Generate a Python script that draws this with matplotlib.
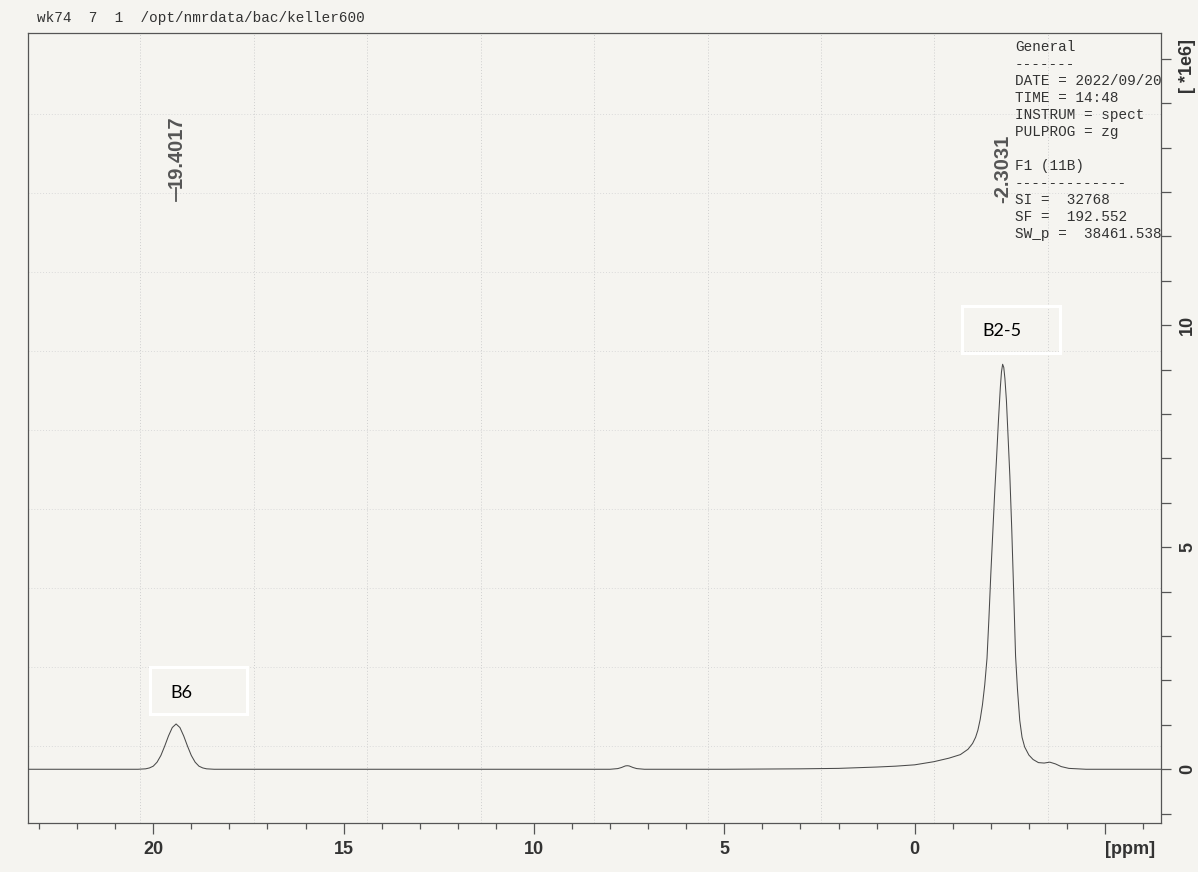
"""
plot.py

11B NMR spectrum (Bruker style printout) redrawn with matplotlib.
"""
import matplotlib
matplotlib.use('Agg')
import numpy as np
import matplotlib.pyplot as plt
from matplotlib.patches import Rectangle
from matplotlib.ticker import MultipleLocator

# spectrum: chemical shift [ppm] and intensity [*1e6]
PPM = [23.29, 21.0, 20.4, 20.2, 20.1, 20.0, 19.9, 19.8, 19.7, 19.6, 19.5,
       19.4, 19.3, 19.2, 19.1, 19.0, 18.9, 18.8, 18.7, 18.6, 18.4,
       15.0, 12.0, 8.0, 7.8, 7.7, 7.6, 7.55, 7.5, 7.4, 7.3, 7.1,
       5.0, 3.0, 2.0, 1.0, 0.5, 0.0, -0.5, -0.9, -1.2, -1.4, -1.52,
       -1.60, -1.66, -1.72, -1.78, -1.84, -1.90, -1.95, -2.00, -2.05,
       -2.10, -2.15, -2.20, -2.25, -2.28, -2.31, -2.34, -2.37, -2.41,
       -2.45, -2.50, -2.55, -2.60, -2.65, -2.70, -2.76, -2.82, -2.89,
       -3.00, -3.11, -3.25, -3.40, -3.55, -3.70, -3.85, -4.05, -4.5, -6.47]
INTENSITY = [0.0, 0.0, 0.0, 0.01, 0.03, 0.07, 0.16, 0.31, 0.52, 0.75, 0.94,
             1.02, 0.94, 0.75, 0.52, 0.31, 0.16, 0.07, 0.03, 0.01, 0.0,
             0.0, 0.0, 0.0, 0.015, 0.04, 0.075, 0.08, 0.075, 0.04, 0.015, 0.0,
             0.0, 0.01, 0.02, 0.05, 0.07, 0.10, 0.17, 0.25, 0.33, 0.45, 0.58,
             0.72, 0.88, 1.12, 1.45, 1.90, 2.50, 3.40, 4.40, 5.30,
             6.20, 7.00, 7.85, 8.60, 8.95, 9.12, 9.05, 8.80, 8.30,
             7.55, 6.60, 5.40, 4.00, 2.55, 1.80, 1.10, 0.72, 0.50,
             0.32, 0.22, 0.15, 0.14, 0.16, 0.12, 0.06, 0.02, 0.0, 0.0]

PEAK_PPM = [19.4017, -2.3031]
PEAK_NAMES = ['B6', 'B2-5']

PARAM_LINES = ['General', '-------', 'DATE = 2022/09/20', 'TIME = 14:48',
               'INSTRUM = spect', 'PULPROG = zg', '', 'F1 (11B)',
               '-------------', 'SI =  32768', 'SF =  192.552',
               'SW_p =  38461.538']
HEADER = 'wk74  7  1  /opt/nmrdata/bac/keller600'

PAPER = '#f5f4f0'
INK = '#4a4a4a'
W, H = 1198, 872


def main():
    fig = plt.figure(figsize=(W / 100, H / 100), dpi=100, facecolor=PAPER)
    ax = fig.add_axes([28 / W, 49 / H, 1133 / W, 790 / H], facecolor=PAPER)

    # faint graph-paper grid of the scanned sheet
    for x in 20.34 - 2.98 * np.arange(9):
        ax.axvline(x, color='#cfcfcf', lw=0.7, ls=(0, (1, 2)), zorder=0)
    for y in 0.52 + 1.78 * np.arange(9):
        ax.axhline(y, color='#dadada', lw=0.7, ls=(0, (1, 2)), zorder=0)

    ax.plot(PPM, INTENSITY, color=INK, lw=0.75, zorder=3)

    ax.set_xlim(23.29, -6.47)
    ax.set_ylim(-1.21, 16.58)

    for s in ax.spines.values():
        s.set_color('#555555')
        s.set_linewidth(0.9)

    # x axis
    ax.set_xticks([20, 15, 10, 5, 0, -5])
    ax.set_xticklabels(['20', '15', '10', '5', '0', '[ppm]'])
    ax.xaxis.set_minor_locator(MultipleLocator(1))
    ax.tick_params(axis='x', which='major', length=8, width=0.9, color='#555555',
                   pad=5, labelsize=13, labelcolor='#333333')
    ax.tick_params(axis='x', which='minor', length=4.5, width=0.9, color='#555555')
    for lbl in ax.get_xticklabels():
        lbl.set_fontweight('bold')
        lbl.set_family('Liberation Sans')
    ax.get_xticklabels()[-1].set_ha('left')

    # y axis on the right
    ax.yaxis.tick_right()
    ax.set_yticks([0, 5, 10, 15])
    ax.set_yticklabels(['0', '5', '10', ''])
    ax.yaxis.set_minor_locator(MultipleLocator(1))
    ax.tick_params(axis='y', which='both', left=False, right=True, length=7,
                   width=0.9, color='#555555')
    ax.tick_params(axis='y', which='major', pad=6, labelsize=13,
                   labelcolor='#333333')
    for lbl in ax.get_yticklabels():
        lbl.set_rotation(90)
        lbl.set_va('center')
        lbl.set_fontweight('bold')
        lbl.set_family('Liberation Sans')
    fig.text(1188 / W, 1 - 66 / H, '[ *1e6]', rotation=90, ha='center',
             va='center', fontsize=13, fontweight='bold',
             family='Liberation Sans', color='#333333')

    # peak picking labels
    for p in PEAK_PPM:
        if p >= 0:
            ax.plot([p, p], [12.8, 13.1], color='#555555', lw=1.3)
            ax.text(p, 13.1, f'{p:.4f}', rotation=90, ha='center', va='bottom',
                    fontsize=14.5, fontweight='bold', family='Liberation Sans',
                    color='#555555')
        else:
            ax.text(p, 12.75, f'{p:.4f}', rotation=90, ha='center', va='bottom',
                    fontsize=14.5, fontweight='bold', family='Liberation Sans',
                    color='#555555')

    # assignment boxes
    boxes = [(20.08, 1.24, 2.55, 1.06, 19.55, 1.72),
             (-1.24, 9.37, 2.58, 1.06, -1.79, 9.86)]
    for name, (bx, by, bw, bh, tx, ty) in zip(PEAK_NAMES, boxes):
        ax.add_patch(Rectangle((bx - bw, by), bw, bh, fill=False,
                               edgecolor='white', lw=2.2, zorder=4))
        ax.text(tx, ty, name, ha='left', va='center', fontsize=13,
                family='Lato', color='black', zorder=5)

    # acquisition parameters
    for i, line in enumerate(PARAM_LINES):
        fig.text(1015 / W, 1 - (47 + 17 * i) / H, line, ha='left', va='center',
                 fontsize=10.4, family='Liberation Mono', color='#333333')

    fig.text(37 / W, 1 - 18 / H, HEADER, ha='left', va='center', fontsize=10.4,
             family='Liberation Mono', color='#333333')

    fig.savefig('out.png', dpi=100, facecolor=PAPER)


if __name__ == '__main__':
    main()
